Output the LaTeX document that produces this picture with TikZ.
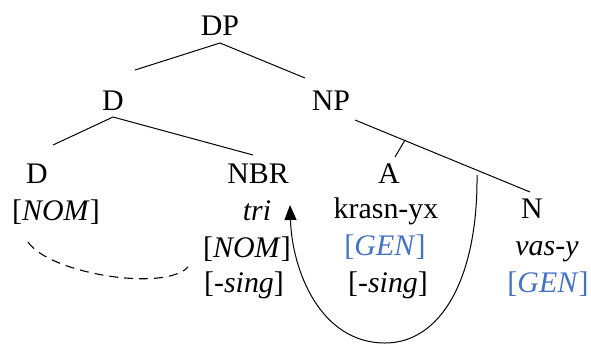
\documentclass[tikz,border=0pt]{standalone}
\usepackage{fontspec}
\setmainfont{Liberation Serif}
\newfontfamily\timesf{Liberation Serif}
\usetikzlibrary{arrows.meta}
\definecolor{featblue}{HTML}{4472C4}
\begin{document}
\begin{tikzpicture}[x=1bp,y=-1bp,
  lbl/.style={anchor=base,inner sep=0pt,font=\timesf\fontsize{30}{36}\selectfont},
  blu/.style={lbl,text=featblue},
  edge/.style={line width=1bp},
  agree/.style={line width=1.1bp,dash pattern=on 9bp off 6bp},
  move/.style={line width=1bp,-{Triangle[width=12bp,length=15bp]}}]
\useasboundingbox (0,0) rectangle (591,345);
% labels
\node[lbl] (DP) at (220,35) {DP};
\node[lbl] (D1) at (113,110) {D};
\node[lbl] (NP) at (331,110) {NP};
\node[lbl] (D2) at (37,183) {D};
\node[lbl] (Dnom) at (56,220) {[\textit{NOM}]};
\node[lbl] (NBR) at (258,183) {NBR};
\node[lbl] (tri) at (257,220) {\textit{tri}};
\node[lbl] (Bnom) at (247,257) {[\textit{NOM}]};
\node[lbl] (Bsing) at (244,292) {[-\textit{sing}]};
\node[lbl] (A) at (389,183) {A};
\node[lbl] (krasn) at (386,218) {krasn-yx};
\node[blu] (Agen) at (385,255) {[\textit{GEN}]};
\node[lbl] (Asing) at (388,292) {[-\textit{sing}]};
\node[lbl] (N) at (532,218) {N};
\node[lbl] (vas) at (547,255) {\textit{vas}-\textit{y}};
\node[blu] (Ngen) at (548,292) {[\textit{GEN}]};
% connector end points
\coordinate (dpB) at (220,43);
\coordinate (d1T) at (135,70);
\coordinate (npT) at (305,78);
\coordinate (d1B) at (113,117);
\coordinate (d2T) at (53,145);
\coordinate (nbrT) at (253,155);
\coordinate (npB) at (355,120);
\coordinate (nT) at (530,192);
\coordinate (aJ) at (405,140);
\coordinate (aT) at (395,157);
\coordinate (dashS) at (28,242);
\coordinate (dashE) at (188,267);
\coordinate (moveS) at (477,175);
\coordinate (moveM) at (385,343);
\coordinate (moveE) at (290,205);
% tree edges
\draw[edge] (dpB) -- (d1T);
\draw[edge] (dpB) -- (npT);
\draw[edge] (d1B) -- (d2T);
\draw[edge] (d1B) -- (nbrT);
\draw[edge] (npB) -- (nT);
\draw[edge] (aJ) -- (aT);
% agreement and movement
\draw[agree] (dashS) .. controls (50,274) and (165,292) .. (dashE);
\draw[move] (moveS) .. controls (478,280) and (440,343) .. (moveM)
  .. controls (320,343) and (292,270) .. (moveE);
\end{tikzpicture}
\end{document}
